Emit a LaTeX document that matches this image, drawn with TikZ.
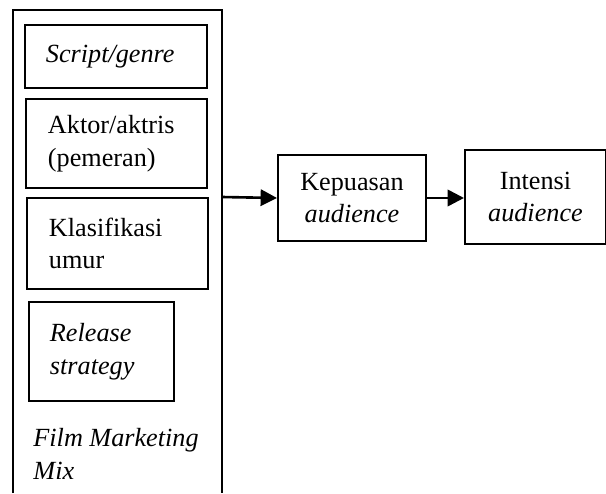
\documentclass[tikz,border=0pt]{standalone}
\usepackage{fontspec}
\setmainfont{Liberation Serif}
\usepackage{tikz}
\usetikzlibrary{arrows.meta}

\begin{document}
\begin{tikzpicture}[x=0.458pt, y=-0.458pt,
    font=\fontsize{12}{15}\selectfont,
    box/.style={draw, line width=0.9pt, anchor=north west, inner ysep=0pt},
    arr/.style={-{Triangle[length=7.5pt,width=7.5pt]}, line width=1.2pt}]
    \def\u{0.458pt}
    \useasboundingbox (0,0) rectangle (606,493);
    % open frame round the mix
    \draw[line width=0.9pt] (13,493) -- (13,10) -- (222,10) -- (222,493);
    \node[box, align=left, inner xsep=21*\u, text width=140*\u,
      minimum height=63*\u] (script) at (24,24) {\textit{Script/genre}};
    \node[box, align=left, inner xsep=22*\u, text width=137*\u,
      minimum height=89*\u] (aktor) at (25,98) {Aktor/aktris\\(pemeran)};
    \node[box, align=left, inner xsep=22*\u, text width=137*\u,
      minimum height=91*\u] (umur) at (26,197) {Klasifikasi\\umur};
    \node[box, align=left, inner xsep=21*\u, text width=103*\u,
      minimum height=99*\u] (release) at (28,301)
      {\textit{Release}\\\textit{strategy}};
    \node[align=left, inner sep=0pt, anchor=north west] (fmm) at (33,428)
      {\textit{Film Marketing}\\\textit{Mix}};
    \coordinate (mixout) at (222,197);
    \node[box, align=center, minimum width=148*\u, minimum height=86*\u]
      (kepuasan) at (277,154) {Kepuasan\\\textit{audience}};
    \node[box, align=center, minimum width=141*\u, minimum height=94*\u]
      (intensi) at (464,149) {Intensi\\\textit{audience}};
    \draw[arr] (mixout) -- (kepuasan.west);
    \draw[arr] (kepuasan.east) -- (intensi.west |- kepuasan.east);
  \end{tikzpicture}
\end{document}
